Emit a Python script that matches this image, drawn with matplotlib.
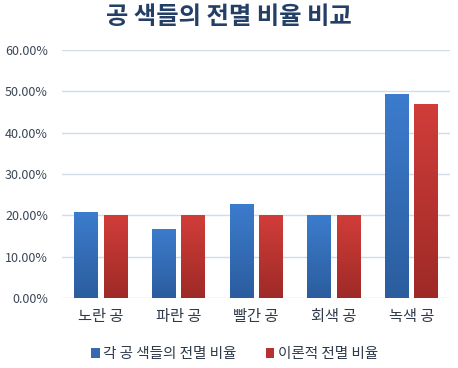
import numpy as np
import matplotlib
matplotlib.use("Agg")
import matplotlib.pyplot as plt
from matplotlib.colors import LinearSegmentedColormap
from matplotlib.patches import Patch

plt.rcParams['font.family'] = ['Noto Sans CJK KR', 'DejaVu Sans']

categories = ['노란 공', '파란 공', '빨간 공', '회색 공', '녹색 공']
observed = [20.8, 16.7, 22.8, 20.0, 49.4]
theory = [20.0, 20.0, 20.0, 20.0, 47.0]
series_names = ['각 공 색들의 전멸 비율', '이론적 전멸 비율']
yticks = [0, 10, 20, 30, 40, 50, 60]

blue_cmap = LinearSegmentedColormap.from_list('b', ['#2b5d9e', '#3c7ccd'])
red_cmap = LinearSegmentedColormap.from_list('r', ['#9e2a27', '#d13d39'])

fig = plt.figure(figsize=(4.58, 3.68), dpi=100)
ax = fig.add_axes([0.135, 0.19, 0.848, 0.674])

x = np.arange(len(categories))
w = 0.3
off = 0.19


def gradient_bars(xs, vals, cmap):
    bars = ax.bar(xs, vals, width=w, color='none', edgecolor='none', zorder=3)
    grad = np.linspace(0, 1, 100).reshape(-1, 1)
    for b in bars:
        bx, by = b.get_x(), b.get_y()
        bw, bh = b.get_width(), b.get_height()
        im = ax.imshow(grad, cmap=cmap, aspect='auto', origin='lower',
                       extent=[bx, bx + bw, by, by + bh], zorder=3)
        im.set_clip_path(b)


gradient_bars(x - off, observed, blue_cmap)
gradient_bars(x + off, theory, red_cmap)

ax.set_xlim(-0.5, len(categories) - 0.5)
ax.set_ylim(0, 60)
ax.set_yticks(yticks)
ax.set_yticklabels(['%.2f%%' % v for v in yticks], fontsize=9, color='#3a4656')
ax.set_xticks(x)
ax.set_xticklabels(categories, fontsize=11, color='#2e3a4a')
ax.tick_params(length=0, pad=7)
ax.tick_params(axis='y', pad=10)
ax.yaxis.grid(True, color='#d0dde9', linewidth=1, zorder=0)
ax.set_axisbelow(True)
for s in ax.spines.values():
    s.set_visible(False)

fig.text(0.5, 0.953, '공 색들의 전멸 비율 비교', ha='center', va='center',
         fontsize=17.5, fontweight='bold', color='#243f66')

handles = [Patch(facecolor='#3569b0', label=series_names[0]),
           Patch(facecolor='#b8312e', label=series_names[1])]
fig.legend(handles=handles, loc='center', bbox_to_anchor=(0.512, 0.038), ncol=2,
           frameon=False, fontsize=10.5, handlelength=0.6, handleheight=0.6,
           handletextpad=0.25, columnspacing=2.0, labelcolor='#2e3a4a')

fig.savefig('out.png', dpi=100)
